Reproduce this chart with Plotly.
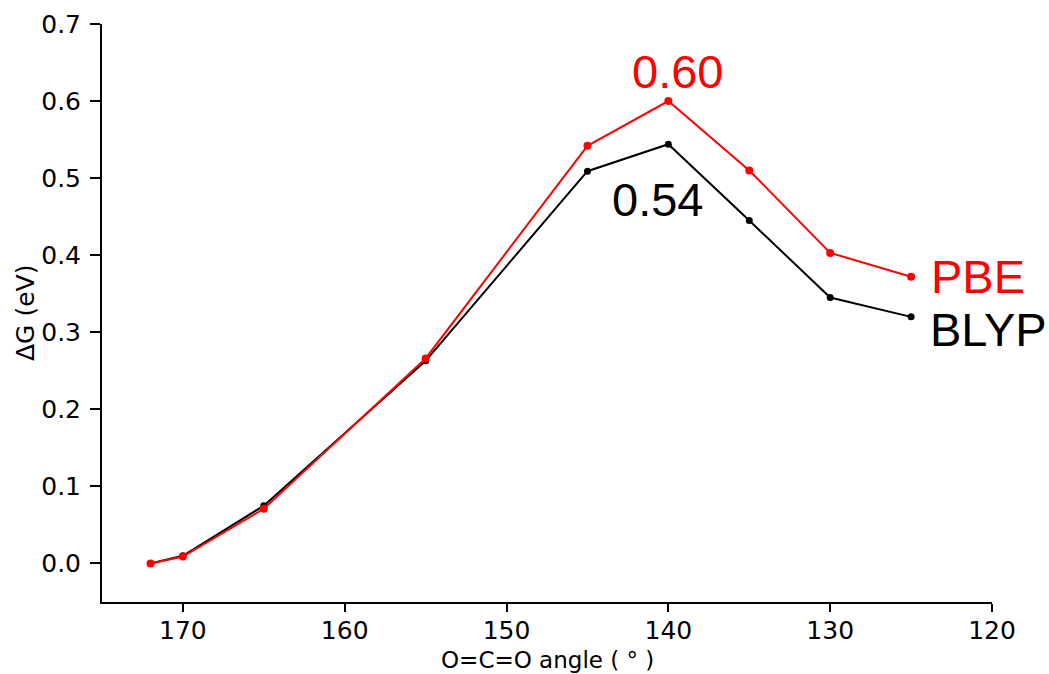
import plotly.graph_objects as go

angles = [172, 170, 165, 155, 145, 140, 135, 130, 125]
blyp = [0.0, 0.010, 0.075, 0.263, 0.509, 0.544, 0.445, 0.345, 0.320]
pbe = [0.0, 0.009, 0.071, 0.266, 0.542, 0.600, 0.510, 0.403, 0.372]

x_ticks = [170, 160, 150, 140, 130, 120]
y_ticks = [0.0, 0.1, 0.2, 0.3, 0.4, 0.5, 0.6, 0.7]

fig = go.Figure()
fig.add_trace(go.Scatter(x=angles, y=blyp, mode="lines+markers", name="BLYP",
                         line=dict(color="black", width=2),
                         marker=dict(color="black", size=7)))
fig.add_trace(go.Scatter(x=angles, y=pbe, mode="lines+markers", name="PBE",
                         line=dict(color="#ff0000", width=2),
                         marker=dict(color="#ff0000", size=8)))

afont = "Liberation Sans, Arial, sans-serif"
fig.add_annotation(x=139.45, y=0.638, text="0.60", showarrow=False,
                   font=dict(family=afont, size=47, color="#ff0000"))
fig.add_annotation(x=140.7, y=0.472, text="0.54", showarrow=False,
                   font=dict(family=afont, size=47, color="black"))
fig.add_annotation(x=123.9, y=0.3725, text="PBE", showarrow=False, xanchor="left",
                   font=dict(family=afont, size=47, color="#ff0000"))
fig.add_annotation(x=123.95, y=0.3033, text="BLYP", showarrow=False, xanchor="left",
                   font=dict(family=afont, size=47, color="black"))

dfont = "DejaVu Sans, sans-serif"
# axis titles placed as text annotations
fig.add_annotation(xref="paper", yref="paper", x=-0.0865, y=0.5, xanchor="center",
                   yanchor="middle", text="ΔG (eV)", textangle=-90, showarrow=False,
                   font=dict(family=dfont, size=25, color="black"))
fig.add_annotation(xref="paper", yref="paper", x=0.5, y=-0.1246, xanchor="center",
                   yanchor="bottom", text="O=C=O angle ( ° )", showarrow=False,
                   borderpad=0,
                   font=dict(family=dfont, size=23, color="black"))

tfont = dict(family=dfont, size=25, color="black")
fig.update_layout(
    width=1049, height=674,
    margin=dict(l=102, r=57, t=24, b=72),
    paper_bgcolor="white", plot_bgcolor="white",
    showlegend=False,
    xaxis=dict(range=[175, 120], tickvals=x_ticks, ticks="outside", ticklen=8,
               tickwidth=2, tickcolor="black", showline=True, linecolor="black",
               linewidth=2, showgrid=False, zeroline=False, tickfont=tfont,
               automargin=False, ticklabelstandoff=-3),
    yaxis=dict(range=[-0.05, 0.7], tickvals=y_ticks, tickformat=".1f", ticks="outside",
               ticklen=10, tickwidth=2, tickcolor="black", showline=True,
               linecolor="black", linewidth=2, showgrid=False, zeroline=False,
               automargin=False, tickfont=tfont, ticklabelstandoff=4),
)

fig.write_html("out.html")
